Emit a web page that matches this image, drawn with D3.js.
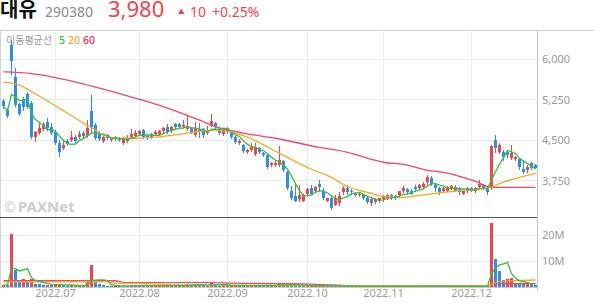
<!DOCTYPE html>
<html>
<head>
<meta charset="utf-8">
<script src="https://cdn.jsdelivr.net/npm/d3@7"></script>
<style>
  body { margin: 0; background: #fff; }
  svg { display: block; font-family: "Noto Sans", "Noto Sans CJK KR", sans-serif; }
</style>
</head>
<body>
<svg id="chart" width="594" height="304"></svg>
<script>
// Daily candles, 2022-06-14 .. 2022-12-23 (KRW)
const open = [5220,5050,6260,5665,5165,5255,5350,5180,4550,4625,4695,4830,4735,4640,4435,4345,4475,4495,4550,4550,
  4625,4565,5030,4770,4625,4475,4585,4495,4550,4530,4435,4475,4550,4565,4605,4680,4565,4605,4605,4605,
  4660,4735,4660,4790,4790,4735,4695,4715,4585,4695,4695,4625,4770,4810,4695,4605,4715,4625,4550,4435,
  4400,4270,4305,4230,4345,4250,4215,4025,4025,4025,4100,3895,3560,3450,3395,3375,3505,3600,3545,3690,
  3560,3375,3415,3300,3320,3525,3600,3560,3505,3470,3490,3430,3320,3395,3360,3395,3415,3470,3450,3470,
  3545,3580,3560,3620,3600,3620,3710,3785,3655,3600,3545,3560,3600,3560,3600,3505,3545,3600,3545,3620,
  3655,3600,3600,4495,4270,4270,4270,4160,4140,4140,3955,3935,4065,4025];
const high = [5255,5090,6355,5835,5180,5295,5385,5220,4660,4810,4830,4900,4810,4680,4495,4495,4510,4660,4585,4660,
  4660,4865,5330,4810,4660,4565,4605,4550,4565,4550,4550,4585,4695,4680,4680,4695,4585,4625,4680,4680,
  4735,4790,4755,4810,4810,4865,4960,4735,4830,4810,4715,4755,4975,4830,4715,4715,4735,4640,4565,4510,
  4420,4325,4435,4435,4360,4270,4230,4085,4100,4380,4120,3915,3635,3690,3655,3490,3600,3655,3635,3750,
  3600,3430,3450,3470,3525,3635,3655,3580,3525,3525,3505,3450,3415,3415,3430,3470,3490,3490,3470,3560,
  3635,3600,3580,3655,3675,3710,3840,3825,3690,3620,3620,3635,3655,3655,3620,3560,3620,3620,3620,3750,
  3675,3620,4400,4585,4435,4305,4305,4400,4195,4160,4120,4025,4085,4045];
const low = [5090,4920,5720,5125,4960,5050,5090,4530,4475,4605,4680,4680,4605,4420,4195,4325,4400,4475,4455,4530,
  4550,4550,4625,4510,4495,4455,4510,4475,4495,4475,4420,4455,4530,4550,4585,4530,4510,4530,4585,4585,
  4640,4625,4640,4715,4715,4715,4680,4625,4565,4550,4550,4605,4755,4715,4605,4585,4625,4530,4435,4420,
  4270,4250,4290,4215,4250,4195,3970,4010,4010,4010,3915,3580,3395,3360,3375,3360,3490,3490,3525,3560,
  3395,3360,3225,3285,3300,3505,3490,3505,3450,3450,3395,3320,3300,3320,3340,3375,3395,3395,3395,3450,
  3525,3505,3490,3560,3580,3600,3690,3655,3560,3505,3525,3545,3580,3545,3505,3490,3525,3545,3525,3600,
  3580,3505,3580,4270,4250,4120,4175,4140,4120,3955,3880,3895,3955,3970];
const close = [5125,4940,5965,5145,4975,5105,5105,4550,4640,4715,4790,4715,4625,4435,4270,4400,4420,4550,4475,4605,
  4565,4715,4735,4530,4510,4550,4530,4530,4510,4495,4530,4510,4605,4625,4660,4550,4530,4550,4640,4660,
  4715,4640,4735,4735,4735,4770,4755,4640,4715,4640,4585,4680,4845,4735,4625,4695,4640,4550,4455,4475,
  4290,4305,4360,4360,4270,4215,3990,4065,4065,4120,3935,3600,3415,3375,3470,3470,3580,3505,3620,3620,
  3415,3415,3245,3415,3450,3600,3525,3525,3470,3505,3415,3340,3395,3340,3415,3450,3470,3415,3415,3545,
  3600,3525,3505,3580,3655,3690,3805,3690,3600,3525,3600,3620,3635,3620,3525,3545,3600,3560,3600,3690,
  3600,3525,4380,4345,4400,4175,4215,4250,4175,3990,3895,3990,3970,3980];
// Volume, millions of shares
const volume = [0.8,0.6,20.4,6.5,2.6,3.0,2.8,3.0,1.2,1.0,0.7,0.9,0.6,1.0,1.1,0.6,0.5,0.7,0.5,0.6,
  0.5,1.8,8.5,1.8,1.0,0.6,0.5,0.4,0.5,0.4,0.5,0.4,0.8,0.6,0.5,0.7,0.4,0.4,0.5,0.5,
  0.6,0.7,0.5,0.6,0.4,0.6,1.2,0.6,1.0,0.8,0.6,0.5,2.0,0.8,0.5,0.6,0.4,0.5,0.6,0.4,
  0.7,0.4,0.5,0.6,0.5,0.4,0.9,0.5,0.4,1.5,0.8,1.1,0.9,0.8,0.6,0.5,0.5,0.4,0.4,0.5,
  0.6,0.3,0.6,0.5,0.5,0.4,0.4,0.3,0.3,0.3,0.4,0.4,0.3,0.3,0.3,0.3,0.3,0.3,0.2,0.4,
  0.4,0.3,0.3,0.3,0.3,0.4,0.6,0.5,0.4,0.3,0.3,0.3,0.2,0.3,0.3,0.2,0.3,0.3,0.2,0.4,
  0.3,0.3,24.7,10.8,6.3,2.6,2.9,3.6,1.4,1.2,1.1,1.3,1.1,0.9];

// Moving averages (candle index -> value)
const ma20At = [0,4,8,12,16,20,23,25,29,33,38,46,53,57,61,69,77,82,86,91,95,99,106,114,121,124,133];
const ma20 = [5570,5515,5350,5180,4995,4810,4680,4585,4530,4530,4550,4625,4680,4640,4550,4250,3955,3805,3635,3525,3450,3430,3490,3560,3600,3690,3880];
const ma60At = [0,7,16,24,32,41,49,52,60,68,79,86,92,95,100,106,110,114,118,121,122,133];
const ma60 = [5760,5730,5610,5460,5295,5090,4865,4770,4625,4530,4360,4270,4140,4085,4045,3935,3895,3825,3730,3635,3620,3620];
const volMa20At = [0,26,28,34,42,60,80,121,124,133];
const volMa20 = [2.0,2.0,1.5,1.4,0.9,0.7,0.5,0.4,2.2,2.7];
const volMa60At = [0,28,30,52,60,75,85,121,123,133];
const volMa60 = [2.4,2.4,1.8,1.7,1.4,1.2,0.6,0.5,1.2,1.4];

// Axis ticks
const priceTicks = [3750, 4500, 5250, 6000];
const volTicks = [10, 20];
const monthStart = [13, 34, 56, 76, 95, 117];
const monthLabels = ['2022.07', '2022.08', '2022.09', '2022.10', '2022.11', '2022.12'];

const RED = '#f2434f', BLUE = '#2a8cf4';
const C5 = '#36c236', C20 = '#fda522', C60 = '#f2466a';

const svg = d3.select('#chart');
const plotLeft = 0, plotRight = 537;
const plotTop = 30, plotSep = 217, plotBottom = 287;

const x = d3.scaleBand().domain(d3.range(close.length))
  .range([1.5, 537.5]).paddingInner(0.25).paddingOuter(0.125);
const cx = i => x(i) + x.bandwidth() / 2;
const y = d3.scaleLinear().domain([3750, 6000]).range([180.3, 59]);
const yv = d3.scaleLinear().domain([0, 20]).range([287, 235]);
const crisp = v => Math.round(v) + 0.5;

// header
svg.append('text').attr('x', 0).attr('y', 17).attr('font-size', 20).attr('font-weight', 'bold')
  .attr('font-family', '"Noto Sans CJK KR", sans-serif').attr('fill', '#111').text('대유');
svg.append('text').attr('x', 45).attr('y', 17).attr('font-size', 14).attr('fill', '#8a8a8a').text('290380');
svg.append('text').attr('x', 108).attr('y', 17).attr('font-size', 22).attr('fill', RED)
  .text(d3.format(',')(close[close.length - 1]));
svg.append('path').attr('d', 'M178,14 L184.5,14 L181.25,8.5 Z').attr('fill', RED);
svg.append('text').attr('x', 190).attr('y', 17).attr('font-size', 14).attr('fill', RED)
  .text(close[close.length - 1] - close[close.length - 2]);
svg.append('text').attr('x', 212).attr('y', 17).attr('font-size', 14).attr('fill', RED)
  .text('+' + d3.format('.2f')((close[close.length - 1] / close[close.length - 2] - 1) * 100) + '%');

// frame and grid
const grid = svg.append('g').attr('shape-rendering', 'crispEdges');
grid.append('line').attr('x1', 0).attr('x2', 594).attr('y1', plotTop + 0.5).attr('y2', plotTop + 0.5).attr('stroke', '#cfcfcf');
priceTicks.forEach(t => grid.append('line').attr('x1', plotLeft).attr('x2', plotRight)
  .attr('y1', crisp(y(t))).attr('y2', crisp(y(t))).attr('stroke', '#ececec'));
volTicks.forEach(t => grid.append('line').attr('x1', plotLeft).attr('x2', plotRight)
  .attr('y1', crisp(yv(t))).attr('y2', crisp(yv(t))).attr('stroke', '#ececec'));
monthStart.forEach(i => grid.append('line').attr('x1', cx(i)).attr('x2', cx(i))
  .attr('y1', plotTop).attr('y2', plotBottom).attr('stroke', '#ececec'));
grid.append('line').attr('x1', 0.5).attr('x2', 0.5).attr('y1', plotTop).attr('y2', plotBottom).attr('stroke', '#d5d5d5');
grid.append('line').attr('x1', plotRight + 0.5).attr('x2', plotRight + 0.5).attr('y1', plotTop).attr('y2', plotBottom + 4).attr('stroke', '#c8c8c8');
grid.append('line').attr('x1', 0).attr('x2', plotRight).attr('y1', plotSep + 0.5).attr('y2', plotSep + 0.5).attr('stroke', '#555');
grid.append('line').attr('x1', 0).attr('x2', plotRight).attr('y1', plotBottom + 0.5).attr('y2', plotBottom + 0.5).attr('stroke', '#c8c8c8');

// watermark
svg.append('text').attr('x', 4).attr('y', 212).attr('font-size', 14).attr('fill', '#cdcdcd').text('©');
svg.append('text').attr('x', 18).attr('y', 212).attr('font-size', 15).attr('font-weight', 'bold')
  .attr('fill', '#cdcdcd').text('PAXNet');

// candles
const candles = svg.append('g').attr('shape-rendering', 'crispEdges');
close.forEach((c, i) => {
  const o = open[i];
  const col = c >= o ? RED : BLUE;
  candles.append('line').attr('x1', cx(i)).attr('x2', cx(i))
    .attr('y1', Math.round(y(high[i]))).attr('y2', Math.round(y(low[i])) + 1).attr('stroke', col);
  const yt = Math.round(y(Math.max(o, c)));
  const yb = Math.round(y(Math.min(o, c)));
  candles.append('rect').attr('x', x(i)).attr('width', x.bandwidth())
    .attr('y', yt).attr('height', Math.max(1, yb - yt)).attr('fill', col);
});

// volume bars (red when volume rose vs previous day)
const bars = svg.append('g').attr('shape-rendering', 'crispEdges');
volume.forEach((v, i) => {
  const col = (i === 0 || v >= volume[i - 1]) ? RED : BLUE;
  const yt = yv(v);
  bars.append('rect').attr('x', x(i)).attr('width', x.bandwidth())
    .attr('y', yt).attr('height', Math.max(1, plotBottom - yt)).attr('fill', col);
});

// moving averages
const trailing = (arr, n) => arr.map((_, i) => d3.mean(arr.slice(Math.max(0, i - n + 1), i + 1)));
const ma5 = trailing(close, 5);
const volMa5 = trailing(volume, 5);

const drawLine = (idx, vals, scale, color, curve) => {
  const line = d3.line().x(d => cx(d[0])).y(d => scale(d[1])).curve(curve);
  svg.append('path').datum(idx.map((k, j) => [k, vals[j]]))
    .attr('d', line).attr('fill', 'none').attr('stroke', color).attr('stroke-width', 1.3);
};
const all = d3.range(close.length);
drawLine(volMa60At, volMa60, yv, C60, d3.curveLinear);
drawLine(volMa20At, volMa20, yv, C20, d3.curveLinear);
drawLine(all, volMa5, yv, C5, d3.curveLinear);
drawLine(ma60At, ma60, y, C60, d3.curveMonotoneX);
drawLine(ma20At, ma20, y, C20, d3.curveMonotoneX);
drawLine(all, ma5, y, C5, d3.curveLinear);

// legend
svg.append('text').attr('x', 6).attr('y', 44).attr('font-size', 10)
  .attr('font-family', '"Noto Sans CJK KR", sans-serif').attr('fill', '#9a9a9a').text('이동평균선');
[['5', C5, 59], ['20', C20, 68], ['60', '#ee2a5a', 83]].forEach(([t, c, px]) =>
  svg.append('text').attr('x', px).attr('y', 44).attr('font-size', 10.5).attr('font-weight', 500)
    .attr('fill', c).text(t));

// axes labels
const axisText = svg.append('g').attr('font-size', 11).attr('fill', '#9a9a9a');
priceTicks.forEach(t => axisText.append('text').attr('x', 542).attr('y', y(t) + 4.2).text(d3.format(',')(t)));
volTicks.forEach(t => axisText.append('text').attr('x', 542).attr('y', yv(t) + 4.2).text(t + 'M'));
monthStart.forEach((i, k) => axisText.append('text').attr('x', cx(i)).attr('y', 297)
  .attr('text-anchor', 'middle').text(monthLabels[k]));
</script>
</body>
</html>
